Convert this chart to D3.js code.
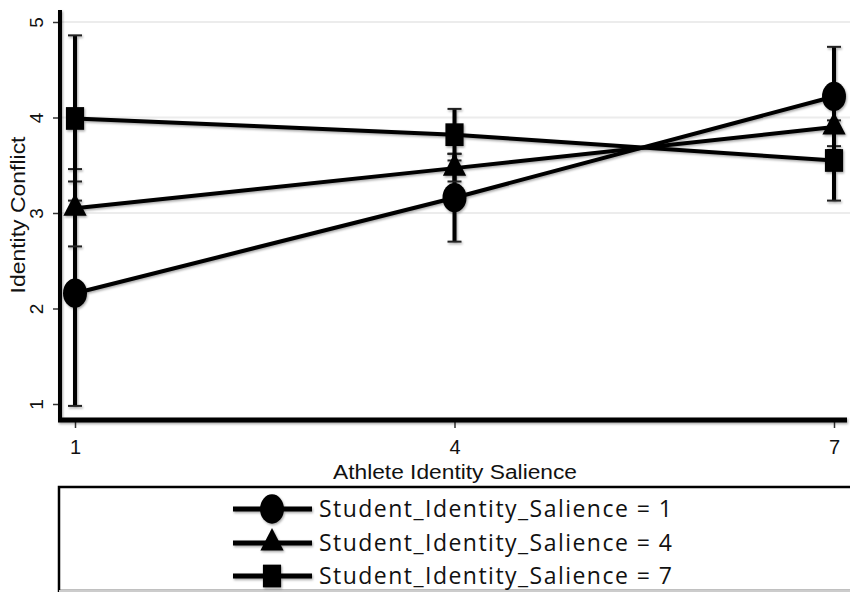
<!DOCTYPE html>
<html>
<head>
<meta charset="utf-8">
<script src="https://cdn.jsdelivr.net/npm/d3@7"></script>
<style>
  body { margin: 0; background: #fff; }
  svg { display: block; }
</style>
</head>
<body>
<div class="chart-container"></div>
<script>
// . . . data
const athleteLevels = [1, 4, 7];
const seriesNames = ['Student_Identity_Salience = 1', 'Student_Identity_Salience = 4', 'Student_Identity_Salience = 7'];
const seriesShapes = ['circle', 'triangle', 'square'];

const means1 = [2.16, 3.16, 4.22];
const lower1 = [0.98, 2.70, 3.70];
const upper1 = [3.33, 3.62, 4.74];

const means4 = [3.05, 3.47, 3.90];
const lower4 = [2.65, 3.33, 3.66];
const upper4 = [3.46, 3.62, 4.13];

const means7 = [3.99, 3.82, 3.55];
const lower7 = [3.13, 3.55, 3.13];
const upper7 = [4.86, 4.09, 3.97];

const yTicks = [1, 2, 3, 4, 5];
const gridTicks = [3, 4, 5];

const series = [
    { name: seriesNames[0], shape: seriesShapes[0], mean: means1, lo: lower1, hi: upper1 },
    { name: seriesNames[1], shape: seriesShapes[1], mean: means4, lo: lower4, hi: upper4 },
    { name: seriesNames[2], shape: seriesShapes[2], mean: means7, lo: lower7, hi: upper7 }
];

const width = 850;
const height = 592;

const svg = d3.select('.chart-container')
    .append('svg')
    .attr('width', width)
    .attr('height', height);

// soft shadow like the original export
const defs = svg.append('defs');
defs.append('filter')
    .attr('id', 'shadow')
    .attr('x', '-5%').attr('y', '-5%').attr('width', '110%').attr('height', '110%')
    .append('feDropShadow')
    .attr('dx', 1).attr('dy', 1.5)
    .attr('stdDeviation', 1.2)
    .attr('flood-color', '#000')
    .attr('flood-opacity', 0.35);

// scales
const xScale = d3.scaleLinear().domain([1, 7]).range([75, 834]);
const yScale = d3.scaleLinear().domain([1, 5]).range([404, 22]);

// gridlines
svg.append('g')
    .selectAll('line')
    .data(gridTicks)
    .enter().append('line')
    .attr('x1', 62).attr('x2', width)
    .attr('y1', d => yScale(d)).attr('y2', d => yScale(d))
    .attr('stroke', '#ececec')
    .attr('stroke-width', 2);

// axes
const yAxis = d3.axisLeft(yScale).tickValues(yTicks).tickSize(7).tickFormat(d3.format('d'));
const xAxis = d3.axisBottom(xScale).tickValues(athleteLevels).tickSize(8).tickPadding(12).tickFormat(d3.format('d'));

const yG = svg.append('g')
    .attr('transform', 'translate(60,0)')
    .call(yAxis);
yG.select('.domain').remove();
yG.selectAll('.tick line').attr('stroke', '#333').attr('stroke-width', 1.5);
// rotated tick labels, reading bottom to top
yG.selectAll('.tick text')
    .attr('x', 0).attr('y', 0).attr('dy', 0)
    .attr('transform', 'translate(-17,0) rotate(-90)')
    .style('text-anchor', 'middle')
    .style('font-family', 'Liberation Sans, Arial, sans-serif')
    .style('font-size', '19px')
    .attr('fill', '#111');

const xG = svg.append('g')
    .attr('transform', 'translate(0,420)')
    .call(xAxis);
xG.select('.domain').remove();
xG.selectAll('.tick line').attr('stroke', '#333').attr('stroke-width', 1.5);
xG.selectAll('.tick text')
    .style('font-family', 'Liberation Sans, Arial, sans-serif')
    .style('font-size', '20px')
    .attr('fill', '#111');

// axis frame lines
const frame = svg.append('g').attr('filter', 'url(#shadow)');
frame.append('line')
    .attr('x1', 60).attr('x2', 60)
    .attr('y1', 10).attr('y2', 422)
    .attr('stroke', '#000').attr('stroke-width', 4);
frame.append('line')
    .attr('x1', 58).attr('x2', 847)
    .attr('y1', 420).attr('y2', 420)
    .attr('stroke', '#000').attr('stroke-width', 5);

// axis titles
svg.append('text')
    .attr('transform', 'translate(25, 215) rotate(-90)')
    .style('text-anchor', 'middle')
    .attr('textLength', 157)
    .attr('lengthAdjust', 'spacingAndGlyphs')
    .style('font-family', 'Liberation Sans, Arial, sans-serif')
    .style('font-size', '19.5px')
    .attr('fill', '#111')
    .text('Identity Conflict');

svg.append('text')
    .attr('x', 455)
    .attr('y', 479)
    .style('text-anchor', 'middle')
    .attr('textLength', 244)
    .attr('lengthAdjust', 'spacingAndGlyphs')
    .style('font-family', 'Liberation Sans, Arial, sans-serif')
    .style('font-size', '19.5px')
    .attr('fill', '#111')
    .text('Athlete Identity Salience');

// symbol helper
const symbolFor = {
    circle: { type: d3.symbolCircle, size: 452, sy: 1.22 },
    triangle: { type: d3.symbolTriangle, size: 235, sy: 1.12 },
    square: { type: d3.symbolSquare, size: 330, sy: 1.25 }
};
function drawSymbol(g, shape, x, y) {
    const s = symbolFor[shape];
    g.append('path')
        .attr('d', d3.symbol().type(s.type).size(s.size)())
        .attr('transform', `translate(${x},${y}) scale(1,${s.sy})`)
        .attr('fill', '#000');
}

const plot = svg.append('g').attr('filter', 'url(#shadow)');

// error bars
series.forEach(s => {
    athleteLevels.forEach((lvl, i) => {
        plot.append('line')
            .attr('x1', xScale(lvl)).attr('x2', xScale(lvl))
            .attr('y1', yScale(s.lo[i])).attr('y2', yScale(s.hi[i]))
            .attr('stroke', '#000').attr('stroke-width', 4);
        [s.lo[i], s.hi[i]].forEach(v => {
            plot.append('line')
                .attr('x1', xScale(lvl) - 7).attr('x2', xScale(lvl) + 7)
                .attr('y1', yScale(v)).attr('y2', yScale(v))
                .attr('stroke', '#222').attr('stroke-width', 2);
        });
    });
});

// lines
const line = d3.line()
    .x((d, i) => xScale(athleteLevels[i]))
    .y(d => yScale(d));

series.forEach(s => {
    plot.append('path')
        .datum(s.mean)
        .attr('fill', 'none')
        .attr('stroke', '#000')
        .attr('stroke-width', 4)
        .attr('d', line);
});

// markers
series.forEach(s => {
    s.mean.forEach((v, i) => drawSymbol(plot, s.shape, xScale(athleteLevels[i]), yScale(v)));
});

// legend
const legend = svg.append('g');
legend.append('rect')
    .attr('x', 59).attr('y', 487)
    .attr('width', 800).attr('height', 104)
    .attr('fill', 'none')
    .attr('stroke', '#000').attr('stroke-width', 2.5);
legend.append('line')
    .attr('x1', 59).attr('x2', 850)
    .attr('y1', 591).attr('y2', 591)
    .attr('stroke', '#ccc').attr('stroke-width', 2);

const legendRows = [509, 543, 576];
const legendItems = legend.append('g').attr('filter', 'url(#shadow)');
series.forEach((s, i) => {
    legendItems.append('line')
        .attr('x1', 233).attr('x2', 312)
        .attr('y1', legendRows[i]).attr('y2', legendRows[i])
        .attr('stroke', '#000').attr('stroke-width', 5);
    drawSymbol(legendItems, s.shape, 272, legendRows[i]);
});
series.forEach((s, i) => {
    legend.append('text')
        .attr('x', 319)
        .attr('y', legendRows[i] + 8)
        .attr('textLength', 353)
        .attr('lengthAdjust', 'spacing')
        .style('font-family', 'Open Sans, sans-serif')
        .style('font-size', '23px')
        .attr('fill', '#111')
        .text(s.name);
});
</script>
</body>
</html>
